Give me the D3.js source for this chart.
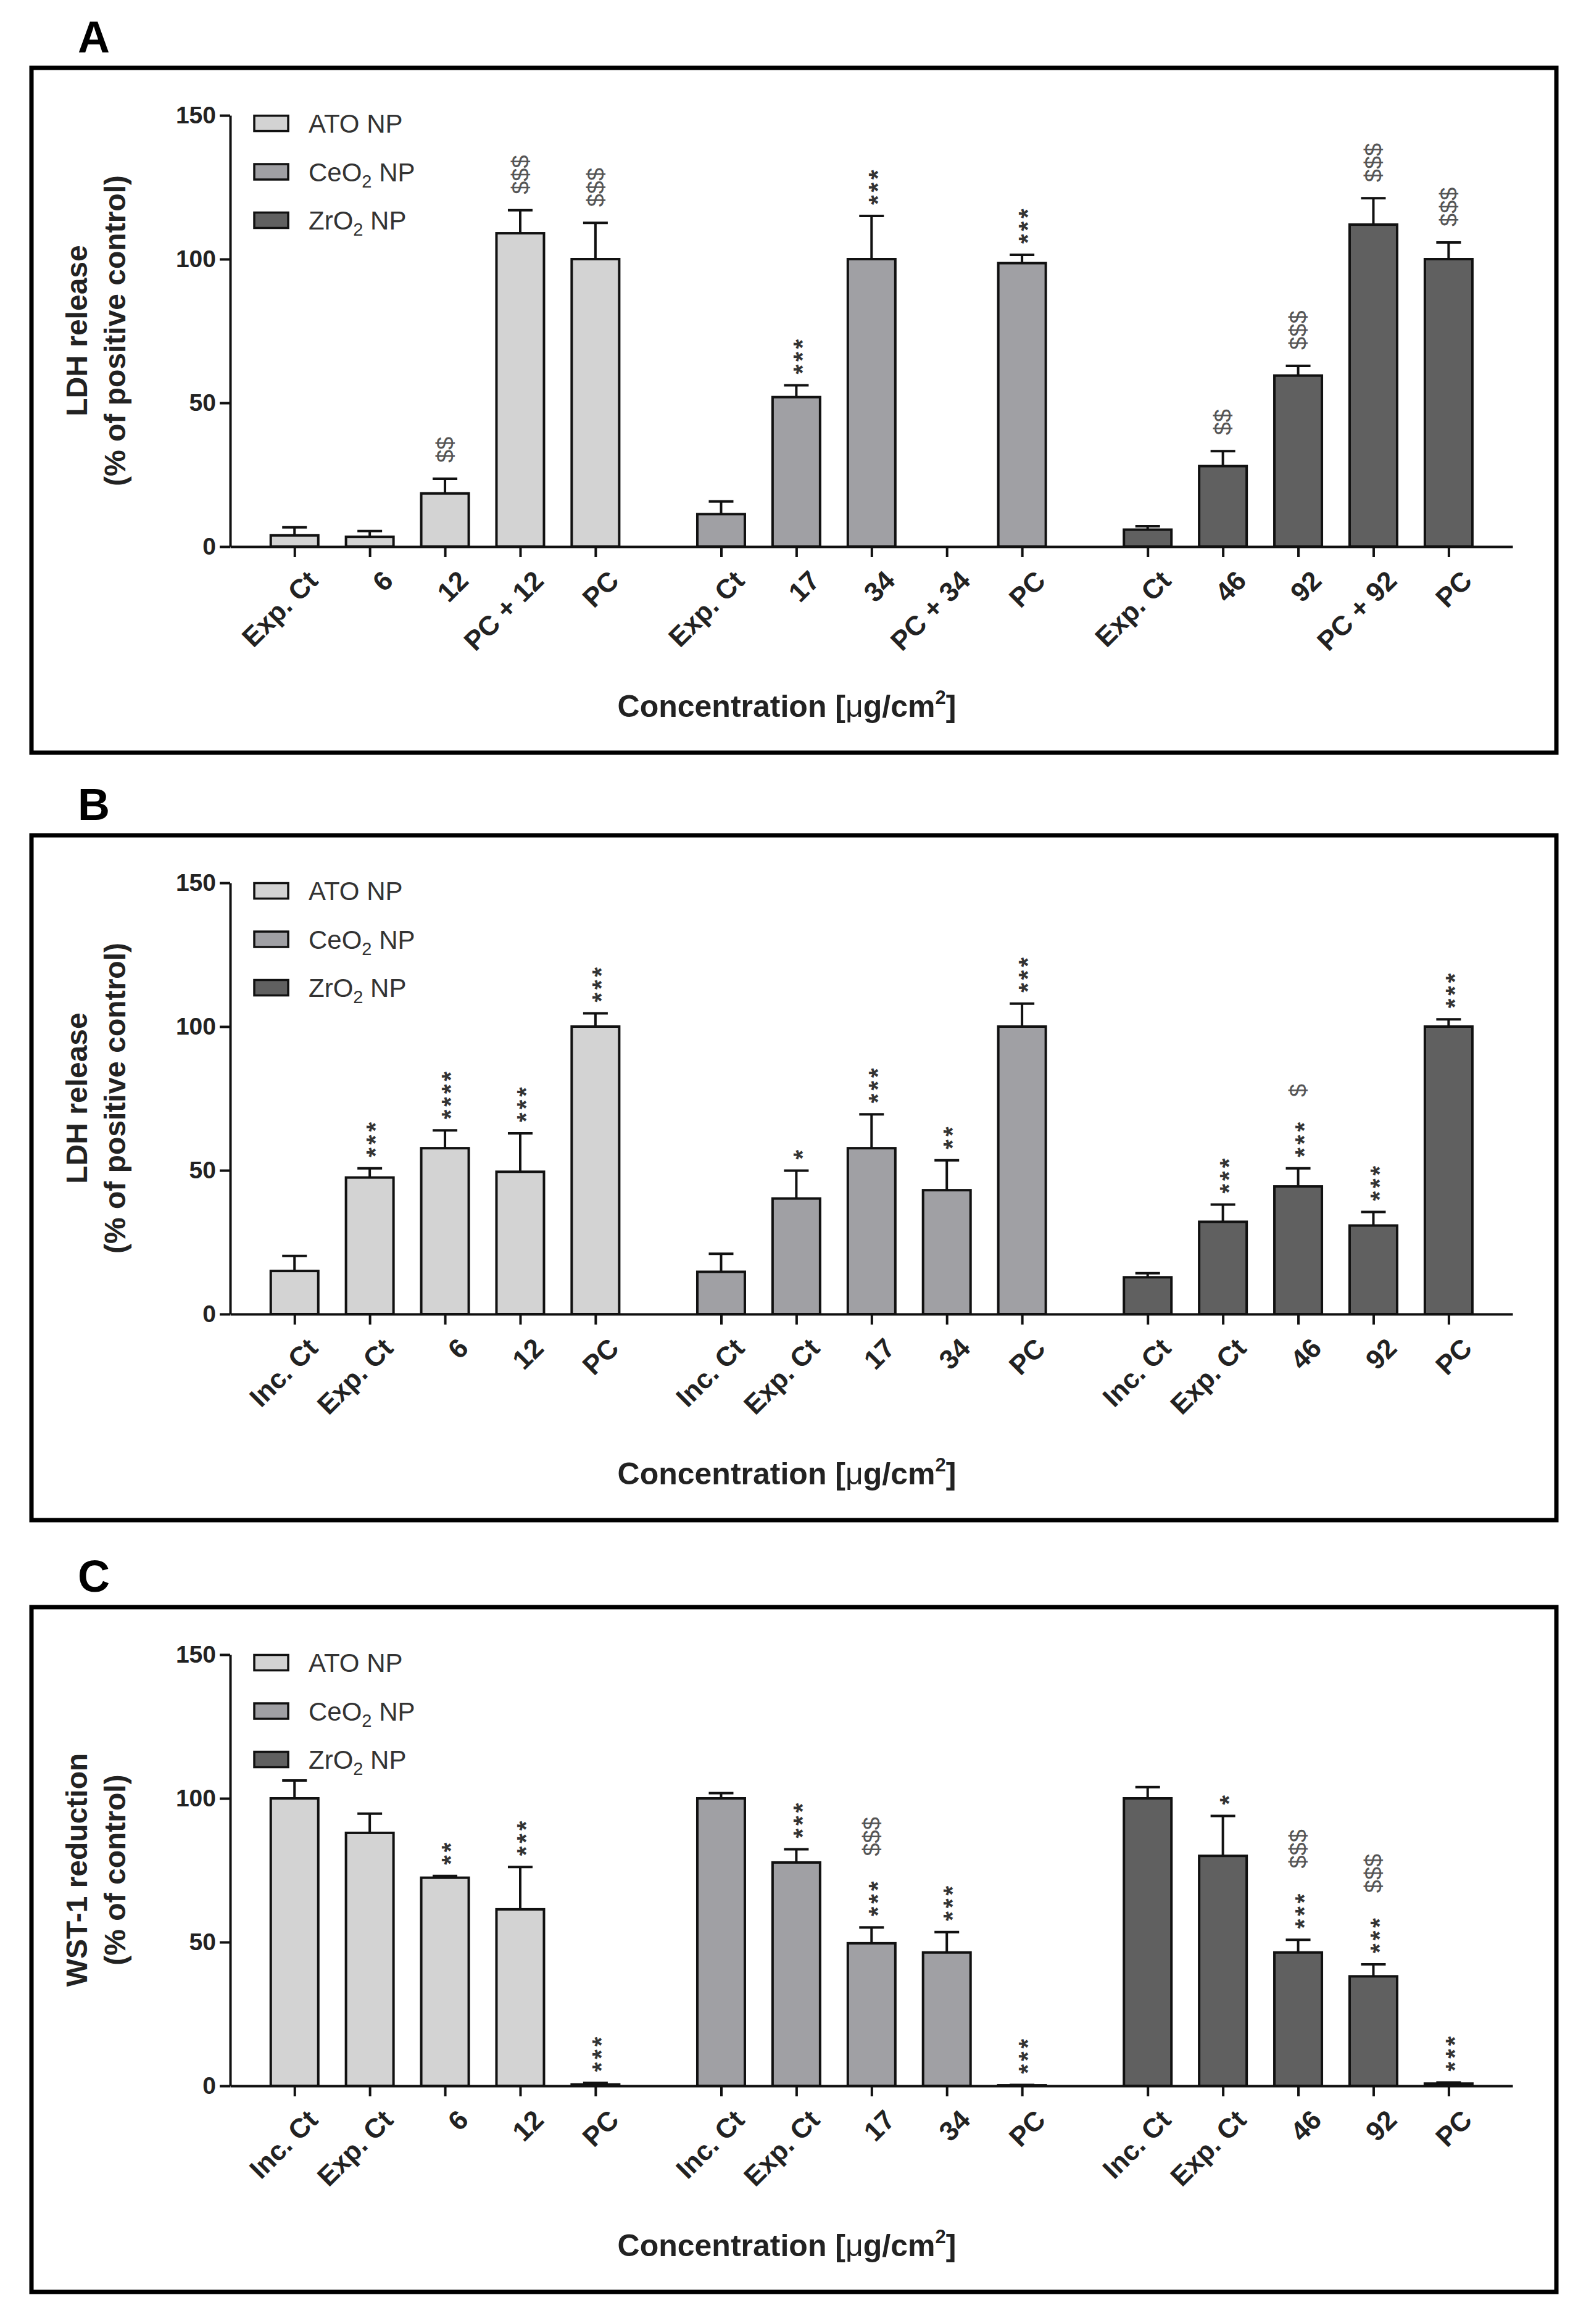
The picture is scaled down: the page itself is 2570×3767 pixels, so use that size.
<!DOCTYPE html>
<html>
<head>
<meta charset="utf-8">
<title>LDH release / WST-1 reduction</title>
<script src="https://cdn.jsdelivr.net/npm/d3@7"></script>
<style>
  body { margin: 0; background: #fff; }
  text { font-family: "Liberation Sans", Arial, sans-serif; }
</style>
</head>
<body>
<svg id="chart" width="2570" height="3767"></svg>
<script>
// legend / series
var materials = ["ATO", "CeO", "ZrO"];
var colors = ["#d3d3d3", "#a0a0a4", "#606060"];
var yTicks = [0, 50, 100, 150];

// panel A
var labelsA = ["Exp. Ct", "6", "12", "PC + 12", "PC",
               "Exp. Ct", "17", "34", "PC + 34", "PC",
               "Exp. Ct", "46", "92", "PC + 92", "PC"];
var meansA  = [3.9, 3.4, 18.5, 109, 100,   11.3, 52, 100, null, 98.6,   5.9, 28, 59.5, 112, 100];
var errorsA = [2.8, 2.0, 5.1, 8, 12.6,     4.4, 4.1, 15, null, 2.9,     1.2, 5.2, 3.4, 9.2, 5.8];
var starsA  = ["", "", "", "", "",   "", "***", "***", "", "***",   "", "", "", "", ""];
var dollarA = ["", "", "$$", "$$$", "$$$",   "", "", "", "", "",   "", "$$", "$$$", "$$$", "$$$"];

// panel B
var labelsB = ["Inc. Ct", "Exp. Ct", "6", "12", "PC",
               "Inc. Ct", "Exp. Ct", "17", "34", "PC",
               "Inc. Ct", "Exp. Ct", "46", "92", "PC"];
var meansB  = [15, 47.5, 57.7, 49.5, 100,   14.7, 40.2, 57.7, 43.1, 100,   12.8, 32.1, 44.4, 30.8, 100];
var errorsB = [5.2, 3.2, 6.2, 13.4, 4.6,    6.3, 9.7, 11.8, 10.4, 8,       1.4, 6, 6.3, 4.7, 2.5];
var starsB  = ["", "***", "****", "***", "***",   "", "*", "***", "**", "***",   "", "***", "***", "***", "***"];
var dollarB = ["", "", "", "", "",   "", "", "", "", "",   "", "", "$", "", ""];

// panel C
var labelsC = labelsB;
var meansC  = [100, 88, 72.4, 61.4, 0.5,   100, 77.7, 49.6, 46.4, 0.2,   100, 80, 46.4, 38.1, 0.8];
var errorsC = [6.2, 6.7, 0.6, 14.7, 0.5,   1.8, 4.6, 5.5, 7.1, 0.1,      3.9, 13.9, 4.4, 4.2, 0.4];
var starsC  = ["", "", "**", "***", "***",   "", "***", "***", "***", "***",   "", "*", "***", "***", "***"];
var dollarC = ["", "", "", "", "",   "", "", "$$$", "", "",   "", "", "$$$", "$$$", ""];

var panels = [
  {letter: "A", top: 110, labels: labelsA, means: meansA, errors: errorsA, stars: starsA, dollars: dollarA,
   title: ["LDH release", "(% of positive control)"]},
  {letter: "B", top: 1354, labels: labelsB, means: meansB, errors: errorsB, stars: starsB, dollars: dollarB,
   title: ["LDH release", "(% of positive control)"]},
  {letter: "C", top: 2605, labels: labelsC, means: meansC, errors: errorsC, stars: starsC, dollars: dollarC,
   title: ["WST-1 reduction", "(% of control)"]}
];

var svg = d3.select("#chart");

// slot position: 5 bars per material, extra gap between materials
function slot(i) { return i + 0.67 * Math.floor(i / 5); }
var x = d3.scaleLinear().domain([-0.855, 16.19]).range([373, 2451]);
var barW = 77, capW = 40, starFs = 40, dolFs = 38;

panels.forEach(function(p) {
  var T = p.top;
  var g = svg.append("g");
  var y = d3.scaleLinear().domain([0, 150]).range([T + 776, T + 77]);

  // frame + panel letter
  g.append("rect").attr("x", 51).attr("y", T).attr("width", 2471).attr("height", 1110)
    .attr("fill", "none").attr("stroke", "#000").attr("stroke-width", 7);
  g.append("text").attr("x", 126).attr("y", T - 25).text(p.letter)
    .style("font-size", "72px").style("font-weight", "bold");

  var rows = p.labels.map(function(l, i) {
    return {i: i, label: l, mean: p.means[i], err: p.errors[i], stars: p.stars[i],
            dollars: p.dollars[i], grp: Math.floor(i / 5)};
  });

  // bars
  g.selectAll("rect.bar").data(rows.filter(function(d) { return d.mean != null; }))
    .enter().append("rect").attr("class", "bar")
    .attr("x", function(d) { return x(slot(d.i)) - barW / 2; })
    .attr("width", barW)
    .attr("y", function(d) { return y(d.mean); })
    .attr("height", function(d) { return y(0) - y(d.mean); })
    .attr("fill", function(d) { return colors[d.grp]; })
    .attr("stroke", "#111").attr("stroke-width", 4);

  // error bars (upper only)
  var eb = g.selectAll("g.err").data(rows.filter(function(d) { return d.mean != null; }))
    .enter().append("g").attr("class", "err")
    .attr("stroke", "#111").attr("stroke-width", 4);
  eb.append("line")
    .attr("x1", function(d) { return x(slot(d.i)); })
    .attr("x2", function(d) { return x(slot(d.i)); })
    .attr("y1", function(d) { return y(d.mean); })
    .attr("y2", function(d) { return y(d.mean + d.err); });
  eb.append("line")
    .attr("x1", function(d) { return x(slot(d.i)) - capW / 2; })
    .attr("x2", function(d) { return x(slot(d.i)) + capW / 2; })
    .attr("y1", function(d) { return y(d.mean + d.err); })
    .attr("y2", function(d) { return y(d.mean + d.err); });

  // significance marks, rotated
  rows.forEach(function(d) {
    if (d.mean == null) return;
    var cx = x(slot(d.i));
    var base = y(d.mean + d.err) - 18;
    if (d.stars) {
      var st = g.append("text").text(d.stars)
        .attr("transform", "translate(" + (cx + 0.58 * starFs) + "," + base + ") rotate(-90)")
        .style("font-size", starFs + "px").style("font-weight", "bold")
        .style("letter-spacing", "5px").attr("fill", "#333");
      base = base - st.node().getComputedTextLength() - 36;
    } else {
      base -= 8;
    }
    if (d.dollars) {
      g.append("text").text(d.dollars)
        .attr("transform", "translate(" + (cx + 0.36 * dolFs) + "," + base + ") rotate(-90)")
        .style("font-size", dolFs + "px").attr("fill", "#555");
    }
  });

  // y axis
  var ya = g.append("g").attr("transform", "translate(373,0)")
    .call(d3.axisLeft(y).tickValues(yTicks).tickSize(17).tickSizeOuter(0).tickPadding(6));
  ya.select(".domain").attr("stroke", "#111").attr("stroke-width", 4);
  ya.selectAll(".tick line").attr("stroke", "#111").attr("stroke-width", 4);
  ya.selectAll(".tick text").style("font-size", "39px").style("font-weight", "bold").attr("fill", "#222");

  // x axis
  var xa = g.append("g").attr("transform", "translate(0," + y(0) + ")")
    .call(d3.axisBottom(x).tickValues(rows.map(function(d) { return slot(d.i); }))
      .tickFormat(function(v, i) { return p.labels[i]; })
      .tickSize(17).tickSizeOuter(0));
  xa.select(".domain").attr("stroke", "#111").attr("stroke-width", 4);
  xa.selectAll(".tick line").attr("stroke", "#111").attr("stroke-width", 4);
  xa.selectAll(".tick text")
    .attr("x", 0).attr("y", 0).attr("dy", null)
    .attr("transform", "translate(40,58) rotate(-45)")
    .style("text-anchor", "end")
    .style("font-size", "44px").style("font-weight", "bold").attr("fill", "#222");

  // y title
  var cy = T + 426;
  p.title.forEach(function(t, k) {
    g.append("text").text(t)
      .attr("transform", "translate(" + (141 + 62 * k) + "," + cy + ") rotate(-90)")
      .style("text-anchor", "middle").style("font-size", "48px").style("font-weight", "bold")
      .attr("fill", "#222");
  });

  // x title
  var xt = g.append("text").attr("x", 1275).attr("y", T + 1052)
    .style("text-anchor", "middle").style("font-size", "50px").style("font-weight", "bold")
    .attr("fill", "#222");
  xt.append("tspan").text("Concentration [");
  xt.append("tspan").text("\u03bc").style("font-weight", "normal");
  xt.append("tspan").text("g/cm");
  xt.append("tspan").text("2").style("font-size", "31px").attr("dy", -21);
  xt.append("tspan").text("]").attr("dy", 21);

  // legend
  var lg = g.selectAll("g.leg").data(materials).enter().append("g").attr("class", "leg")
    .attr("transform", function(d, k) { return "translate(412," + (T + 90 + 78.5 * k) + ")"; });
  lg.append("rect").attr("x", 0).attr("y", -12.5).attr("width", 55).attr("height", 25)
    .attr("fill", function(d, k) { return colors[k]; })
    .attr("stroke", "#111").attr("stroke-width", 3.5);
  var lt = lg.append("text").attr("x", 88).attr("y", 15)
    .style("font-size", "42px").attr("fill", "#333");
  lt.each(function(d) {
    var t = d3.select(this);
    if (d === "ATO") {
      t.append("tspan").text("ATO NP");
    } else {
      t.append("tspan").text(d);
      t.append("tspan").text("2").style("font-size", "29px").attr("dy", 10);
      t.append("tspan").text(" NP").attr("dy", -10);
    }
  });
});
</script>
</body>
</html>
